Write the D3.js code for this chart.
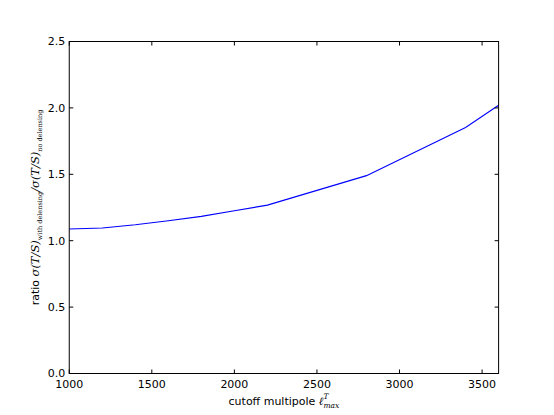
<!DOCTYPE html>
<html>
<head>
<meta charset="utf-8">
<script src="https://cdn.jsdelivr.net/npm/d3@7"></script>
<style>
  body { margin: 0; background: #fff; }
  svg { display: block; font-family: "DejaVu Sans", sans-serif; }
  .math { font-family: "DejaVu Serif", "Liberation Serif", serif; }
</style>
</head>
<body>
<div id="container"></div>
<script>
// data
const cutoffs = [1000, 1200, 1400, 1600, 1800, 2000, 2200, 2800, 3400, 3600];
const ratios  = [1.088, 1.096, 1.120, 1.150, 1.183, 1.225, 1.268, 1.490, 1.853, 2.020];
const xTicks = [1000, 1500, 2000, 2500, 3000, 3500];
const yTicks = [0.0, 0.5, 1.0, 1.5, 2.0, 2.5];

const width = 554, height = 415;
const margin = { top: 41.5, right: 55.4, bottom: 41.5, left: 69.25 };

const svg = d3.select("#container").append("svg")
  .attr("width", width)
  .attr("height", height);

const x = d3.scaleLinear().domain([1000, 3600]).range([margin.left, width - margin.right]);
const y = d3.scaleLinear().domain([0, 2.5]).range([height - margin.bottom, margin.top]);

const fs = 11;

// line
const line = d3.line().x((d, i) => x(cutoffs[i])).y(d => y(d));
svg.append("path")
  .datum(ratios)
  .attr("d", line)
  .attr("fill", "none")
  .attr("stroke", "#0000ff")
  .attr("stroke-width", 1.1);

// axes frame
svg.append("rect")
  .attr("x", x.range()[0]).attr("y", y.range()[1])
  .attr("width", x.range()[1] - x.range()[0])
  .attr("height", y.range()[0] - y.range()[1])
  .attr("fill", "none").attr("stroke", "#000").attr("stroke-width", 1);

// inward ticks on all four sides
const tl = 4;
const xt = svg.append("g");
xTicks.forEach(t => {
  xt.append("line").attr("x1", x(t)).attr("x2", x(t)).attr("y1", y(0)).attr("y2", y(0) - tl).attr("stroke", "#000");
  xt.append("line").attr("x1", x(t)).attr("x2", x(t)).attr("y1", y(2.5)).attr("y2", y(2.5) + tl).attr("stroke", "#000");
  xt.append("text").attr("x", x(t)).attr("y", y(0) + 4 + fs * 0.95)
    .attr("text-anchor", "middle").attr("font-size", fs).text(t);
});
const yt = svg.append("g");
yTicks.forEach(t => {
  yt.append("line").attr("x1", x(1000)).attr("x2", x(1000) + tl).attr("y1", y(t)).attr("y2", y(t)).attr("stroke", "#000");
  yt.append("line").attr("x1", x(3600)).attr("x2", x(3600) - tl).attr("y1", y(t)).attr("y2", y(t)).attr("stroke", "#000");
  yt.append("text").attr("x", x(1000) - 4).attr("y", y(t)).attr("dy", "0.35em")
    .attr("text-anchor", "end").attr("font-size", fs).text(t.toFixed(1));
});

// x label
const xl = svg.append("text")
  .attr("x", (x.range()[0] + x.range()[1]) / 2)
  .attr("y", 405)
  .attr("text-anchor", "middle")
  .attr("font-size", fs);
xl.append("tspan").text("cutoff multipole ");
xl.append("tspan").attr("class", "math").attr("font-style", "italic").text("ℓ");
xl.append("tspan").attr("class", "math").attr("font-style", "italic").attr("font-size", 7.5).attr("dy", -6).text("T");
xl.append("tspan").attr("class", "math").attr("font-style", "italic").attr("font-size", 7.5).attr("dx", -5).attr("dy", 9).text("max");

// y label
const yl = svg.append("text")
  .attr("transform", `translate(38.5,${(y.range()[0] + y.range()[1]) / 2}) rotate(-90)`)
  .attr("text-anchor", "middle")
  .attr("font-size", fs);
yl.append("tspan").text("ratio ");
yl.append("tspan").attr("class", "math").attr("font-style", "italic").attr("font-size", 11.5).text("σ(T/S)");
yl.append("tspan").attr("class", "math").attr("font-size", 6.5).attr("dy", 3).text("with delensing");
yl.append("tspan").attr("class", "math").attr("font-style", "italic").attr("font-size", 11.5).attr("dy", -3).text("/σ(T/S)");
yl.append("tspan").attr("class", "math").attr("font-size", 6.5).attr("dy", 3).text("no delensing");
</script>
</body>
</html>
